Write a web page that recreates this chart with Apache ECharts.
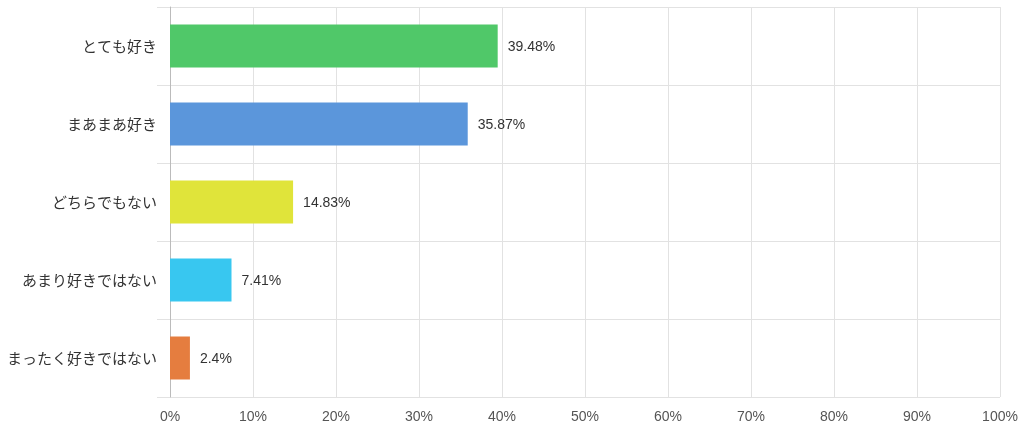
<!DOCTYPE html>
<html><head><meta charset="utf-8">
<script src="https://cdn.jsdelivr.net/npm/echarts@6/dist/echarts.min.js"></script>
<style>html,body{margin:0;padding:0;background:#fff}#c{width:1024px;height:433px}</style>
</head><body><div id="c"></div>
<script>
const categories = ['とても好き','まあまあ好き','どちらでもない','あまり好きではない','まったく好きではない'];
const values = [39.48, 35.87, 14.83, 7.41, 2.4];
const colors = ['#50c869','#5b96db','#e0e43a','#38c7f0','#e57d3f'];
const font = '"Noto Sans CJK JP", "Noto Sans", sans-serif';
const numFont = '"Liberation Sans", Arial, sans-serif';
const chart = echarts.init(document.getElementById('c'));
chart.setOption({
  animation: false,
  grid: {left: 170, right: 24, top: 7, bottom: 36},
  xAxis: {
    type: 'value', min: 0, max: 100, interval: 10,
    axisLine: {show: false}, axisTick: {show: false},
    axisLabel: {formatter: '{value}%', color: '#555', fontSize: 14, fontFamily: numFont, margin: 13},
    splitLine: {lineStyle: {color: '#e2e2e2'}}
  },
  yAxis: {
    type: 'category', data: categories, inverse: true,
    axisLine: {show: true, lineStyle: {color: '#bbb'}},
    axisTick: {show: true, length: 13, lineStyle: {color: '#e2e2e2'}},
    axisLabel: {color: '#333', fontSize: 15, fontFamily: font, margin: 13},
    splitLine: {show: true, lineStyle: {color: '#e2e2e2'}}
  },
  series: [{
    type: 'bar', barWidth: 43,
    data: values.map((v, i) => ({value: v, itemStyle: {color: colors[i]}})),
    label: {show: true, position: 'right', distance: 10, offset: [0, 1], formatter: p => p.value + '%', color: '#333', fontSize: 14, fontFamily: numFont}
  }]
});
</script></body></html>
